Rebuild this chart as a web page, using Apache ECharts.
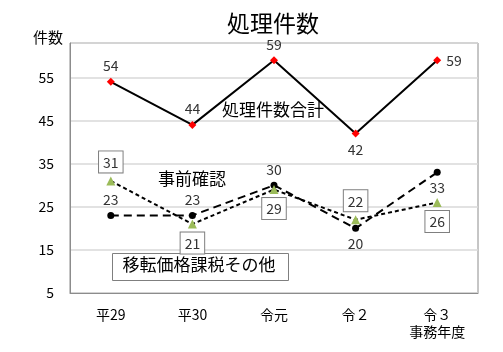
<!DOCTYPE html>
<html>
<head>
<meta charset="utf-8">
<script src="https://cdn.jsdelivr.net/npm/echarts@6/dist/echarts.min.js"></script>
<style>
  html, body { margin: 0; padding: 0; background: #fff; }
  #chart { width: 503px; height: 352px; }
</style>
</head>
<body>
<div id="chart"></div>
<script>
const categories = ['平29', '平30', '令元', '令２', '令３\n事務年度'];
const totalValues = [54, 44, 59, 42, 59];
const advanceValues = [23, 23, 30, 20, 33];
const otherValues = [31, 21, 29, 22, 26];
const yTicks = [5, 15, 25, 35, 45, 55];

// where each point's label sits
const totalLabelPos = ['top', 'top', 'top', 'bottom', 'right'];
const advanceLabelPos = ['top', 'top', 'top', 'bottom', 'bottom'];
const otherLabelPos = ['top', 'bottom', 'bottom', 'top', 'bottom'];

const font = '"Noto Sans CJK JP", "Noto Sans", sans-serif';

const withLabels = (values, positions) =>
    values.map((v, i) => ({ value: v, label: { position: positions[i] } }));

const chart = echarts.init(document.getElementById('chart'));

const option = {
    animation: false,
    backgroundColor: '#fff',
    textStyle: { fontFamily: font },
    title: {
        text: '処理件数',
        left: 222,
        top: 7,
        textStyle: { fontSize: 23, fontWeight: 'normal', color: '#000', fontFamily: font }
    },
    grid: {
        left: 70, right: 25, top: 43, bottom: 59,
        show: true, borderColor: '#8c8c8c', borderWidth: 1
    },
    xAxis: {
        type: 'category',
        data: categories,
        boundaryGap: true,
        axisLine: { lineStyle: { color: '#8c8c8c' } },
        axisTick: { show: false },
        axisLabel: { color: '#000', fontSize: 14, margin: 13, lineHeight: 17, fontFamily: font }
    },
    yAxis: {
        type: 'value',
        min: 5,
        max: 63,
        interval: 10,
        name: '件数',
        nameLocation: 'end',
        nameGap: -2,
        nameTextStyle: { color: '#000', fontSize: 15, align: 'right', padding: [0, 7, 0, 0], fontFamily: font },
        axisLine: { show: true, lineStyle: { color: '#8c8c8c' } },
        axisTick: { show: false },
        axisLabel: {
            color: '#000', fontSize: 14, margin: 16, fontFamily: font,
            formatter: v => (yTicks.indexOf(v) >= 0 ? String(v) : '')
        },
        splitLine: { lineStyle: { color: '#d9d9d9', width: 1.5 } }
    },
    series: [
        {
            name: '処理件数合計',
            type: 'line',
            data: withLabels(totalValues, totalLabelPos),
            symbol: 'diamond',
            symbolSize: 8,
            itemStyle: { color: '#ff0000' },
            lineStyle: { color: '#000', width: 2 },
            label: { show: true, color: '#333', fontSize: 14, distance: 5 },
            z: 3
        },
        {
            name: '事前確認',
            type: 'line',
            data: withLabels(advanceValues, advanceLabelPos),
            symbol: 'circle',
            symbolSize: 7,
            itemStyle: { color: '#000' },
            lineStyle: { color: '#000', width: 2, type: [8, 5] },
            label: { show: true, color: '#333', fontSize: 14, distance: 5 },
            z: 2
        },
        {
            name: '移転価格課税その他',
            type: 'line',
            data: withLabels(otherValues, otherLabelPos),
            symbol: 'triangle',
            symbolSize: 9,
            itemStyle: { color: '#9bbb59' },
            lineStyle: { color: '#000', width: 2, type: [4, 3] },
            label: {
                show: true, color: '#333', fontSize: 14, distance: 4,
                borderColor: '#7f7f7f', borderWidth: 1, backgroundColor: '#fff',
                padding: [4, 4, 3, 4]
            },
            z: 2
        }
    ],
    graphic: [
        {
            type: 'text', left: 222, top: 101,
            style: { text: '処理件数合計', fill: '#000', font: '17px ' + font }
        },
        {
            type: 'text', left: 158, top: 170,
            style: { text: '事前確認', fill: '#000', font: '17px ' + font }
        },
        {
            type: 'group', left: 112, top: 253,
            children: [
                {
                    type: 'rect',
                    shape: { x: 0, y: 0, width: 176, height: 27 },
                    style: { fill: '#fff', stroke: '#7f7f7f', lineWidth: 1 }
                },
                {
                    type: 'text', x: 10, y: 3,
                    style: { text: '移転価格課税その他', fill: '#000', font: '17px ' + font }
                }
            ]
        }
    ]
};

chart.setOption(option);
</script>
</body>
</html>
